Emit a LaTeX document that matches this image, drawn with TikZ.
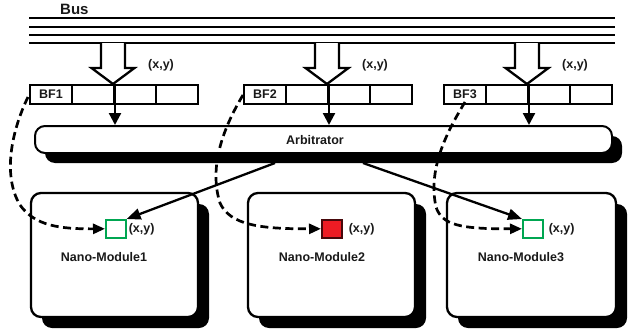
\documentclass[tikz,border=0pt]{standalone}
\usepackage{fontspec}
\setmainfont{Liberation Sans}
\usetikzlibrary{arrows.meta,shadows}
\definecolor{sqgreen}{RGB}{0,166,81}
\definecolor{sqred}{RGB}{237,28,36}
\begin{document}
\begin{tikzpicture}[x=1pt,y=-1pt,
  txt/.style={font=\fontsize{12.5}{14}\selectfont\bfseries, inner sep=0pt, text=black!90},
  cell/.style={draw, line width=2pt, minimum width=42pt, minimum height=19pt, inner sep=0pt, anchor=north west, fill=white},
  busline/.style={line width=2.8pt},
  hollow/.style={draw, fill=white, line width=2.3pt, line join=miter},
  feed/.style={line width=2.3pt, -{Triangle[length=12pt,width=12pt]}},
  solidarr/.style={line width=2.3pt, -{Triangle[length=14pt,width=11pt]}},
  dasharr/.style={line width=2.7pt, dash pattern=on 8pt off 4.5pt, -{Triangle[length=12pt,width=10pt]}},
  box/.style={draw, fill=white, rounded corners=10pt, inner sep=0pt, line width=2.3pt,
    drop shadow={shadow xshift=11pt, shadow yshift=-11pt, fill=black, opacity=1}},
  arbbox/.style={draw, fill=white, rounded corners=10pt, inner sep=0pt, line width=2pt,
    drop shadow={shadow xshift=10pt, shadow yshift=-10pt, fill=black, opacity=1}},
  sq/.style={draw, line width=1.6pt, minimum width=20pt, minimum height=18pt, inner sep=0pt, anchor=north west}
]
\useasboundingbox (0,0) rectangle (629,332);

% Bus
\node[txt, font=\fontsize{15}{17}\selectfont\bfseries, anchor=west] (bus) at (60,9) {Bus};
\foreach \yy in {18,27,35,43} \draw[busline] (29,\yy) -- (615,\yy);

% Arbitrator
\node[arbbox, minimum width=577pt, minimum height=27pt] (arb) at (323.5,139.5) {};
\node[txt] (arbt) at (315,140) {Arbitrator};

% Buffers and hollow arrows
\foreach \b/\x in {1/29,2/243,3/443} {
  \foreach \i in {0,...,3} \node[cell] (b\b c\i) at ({\x+42*\i},84) {};
  \node[txt] (bt\b) at (b\b c0) {BF\b};
  \pgfmathsetmacro{\c}{\x+84}
  \draw[hollow] ({\c-12},43) -- ({\c-12},68) -- ({\c-21.5},68) -- (\c,84) -- ({\c+21.5},68) -- ({\c+12},68) -- ({\c+12},43);
  \node[txt, anchor=west] (xy\b) at ({\x+119},65) {(x,y)};
  \draw[feed] (b\b c1.north east) -- (b\b c1.north east |- arb.north);
}

% Modules
\node[box, minimum width=167pt, minimum height=124pt] (m1) at (114.5,255) {};
\node[box, minimum width=167pt, minimum height=124pt] (m2) at (331.5,255) {};
\node[box, minimum width=169pt, minimum height=124pt] (m3) at (531.5,255) {};
\node[txt] (m1t) at (104,257) {Nano-Module1};
\node[txt] (m2t) at (322,257) {Nano-Module2};
\node[txt] (m3t) at (521,257) {Nano-Module3};

% Squares
\node[sq, draw=sqgreen, fill=white] (s1) at (105,219) {};
\node[sq, draw=black!70!sqred, fill=sqred] (s2) at (321,219) {};
\node[sq, draw=sqgreen, fill=white] (s3) at (522,219) {};
\node[txt, anchor=west] (s1t) at ([xshift=2pt]s1.east) {(x,y)};
\node[txt, anchor=west] (s2t) at ([xshift=6pt]s2.east) {(x,y)};
\node[txt, anchor=west] (s3t) at ([xshift=5pt]s3.east) {(x,y)};

% Arbitrator to modules
\coordinate (a1) at (275,163);
\coordinate (a3) at (363,163);
\draw[solidarr] (a1) -- (s1.north east);
\draw[solidarr] (a3) -- (s3.north west);

% Dashed curves from buffers
\coordinate (d1) at (28,97);
\coordinate (d2) at (243,95);
\coordinate (d3) at (465,102);
\draw[dasharr] (d1) .. controls (12,130) and (2,175) .. (20,205) .. controls (35,226) and (60,229) .. (s1.west);
\draw[dasharr] (d2) .. controls (225,125) and (208,165) .. (220,203) .. controls (230,225) and (260,229) .. (s2.west);
\draw[dasharr] (d3) .. controls (445,135) and (428,170) .. (436,207) .. controls (442,225) and (460,229) .. (s3.west);
\end{tikzpicture}
\end{document}
